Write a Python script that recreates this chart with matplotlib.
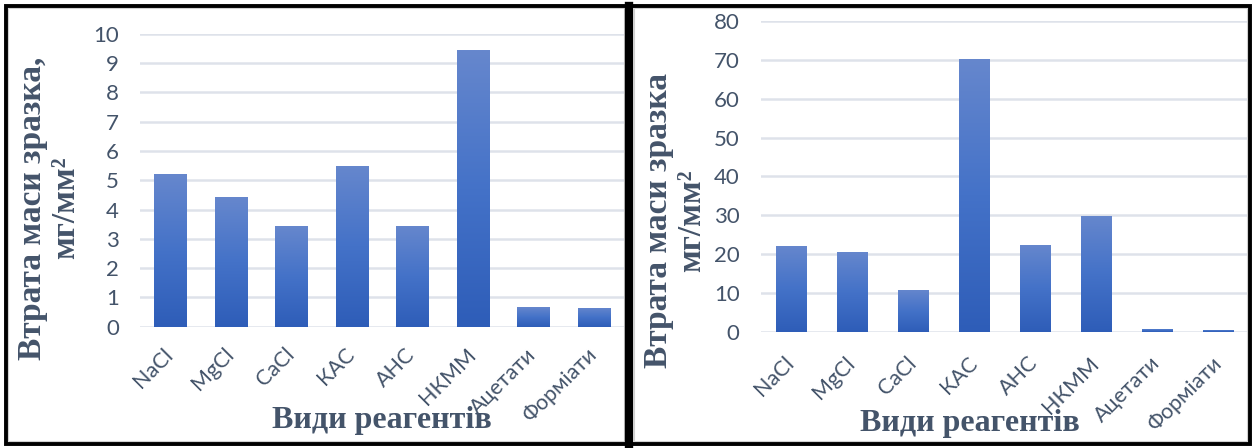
import numpy as np
import matplotlib.pyplot as plt
import matplotlib.transforms as mtransforms
from matplotlib.colors import LinearSegmentedColormap
from matplotlib.patches import Rectangle
from matplotlib.lines import Line2D

# Reagent categories and mass-loss values (mg/mm^2)
categories = ["NaCl", "MgCl", "CaCl", "КАС", "АНС", "НКММ", "Ацетати", "Форміати"]
loss_left = [5.22, 4.41, 3.42, 5.5, 3.45, 9.45, 0.68, 0.65]
loss_right = [22.1, 20.6, 10.9, 70.1, 22.4, 29.9, 0.8, 0.55]

ylabel_left = "Втрата маси зразка,\nмг/мм²"
ylabel_right = "Втрата маси зразка\nмг/мм²"
xlabel = "Види реагентів"

W, H = 1252, 448
fig = plt.figure(figsize=(W / 100, H / 100), dpi=100)
fig.patch.set_facecolor("white")

TICK_COLOR = "#44546A"
TITLE_COLOR = "#44546A"
GRID_COLOR = "#DEE2EA"
bar_cmap = LinearSegmentedColormap.from_list("bar", ["#2E5DB8", "#4472C8", "#6687CD"])


def px_axes(left, top, right, bottom):
    return fig.add_axes([left / W, 1 - bottom / H, (right - left) / W, (bottom - top) / H])


def draw_panel(ax, values, ymax, ystep, width, label_drop):
    x = np.arange(len(categories))
    bars = ax.bar(x, values, width=width, color="#4472C4", zorder=2)
    grad = np.linspace(0, 1, 256).reshape(-1, 1)
    for b in bars:
        x0, w, h = b.get_x(), b.get_width(), b.get_height()
        im = ax.imshow(grad, cmap=bar_cmap, origin="lower", aspect="auto",
                       extent=[x0, x0 + w, 0, h], zorder=3)
        im.set_clip_path(b)
    ax.set_xlim(-0.5, len(categories) - 0.5)
    ax.set_ylim(0, ymax)
    ax.set_yticks(np.arange(0, ymax + ystep / 2, ystep))
    ax.set_xticks(x)
    ax.set_xticklabels(categories, rotation=45, ha="right", va="baseline",
                       rotation_mode="anchor")
    for s in ax.spines.values():
        s.set_visible(False)
    ax.grid(axis="y", color=GRID_COLOR, linewidth=1.8, zorder=0)
    ax.set_axisbelow(True)
    ax.tick_params(axis="both", length=0, colors=TICK_COLOR)
    ax.tick_params(axis="y", pad=15, labelsize=16)
    ax.tick_params(axis="x", pad=0, labelsize=15.5)
    shift = mtransforms.ScaledTranslation(4 / 100, -label_drop / 100, fig.dpi_scale_trans)
    for lab in ax.get_xticklabels():
        lab.set_transform(lab.get_transform() + shift)
    for lab in ax.get_xticklabels() + ax.get_yticklabels():
        lab.set_fontfamily("Lato")
        lab.set_color(TICK_COLOR)
    ax.set_facecolor("white")


ax1 = px_axes(139.7, 33.7, 624.3, 326.7)
draw_panel(ax1, loss_left, 10, 1, 0.53, 29)
ax2 = px_axes(760.5, 20.7, 1249, 332.3)
draw_panel(ax2, loss_right, 80, 10, 0.5, 32)

title_kw = dict(fontfamily="Liberation Serif", fontweight="bold", color=TITLE_COLOR,
                fontsize=24, ha="center", va="center", multialignment="center",
                rotation=90, linespacing=1.1)
fig.text(49 / W, 1 - 208 / H, ylabel_left, **title_kw)
fig.text(675 / W, 1 - 221 / H, ylabel_right, **title_kw)

xl_kw = dict(fontfamily="Liberation Serif", fontweight="bold", color=TITLE_COLOR,
             fontsize=23, ha="center", va="center")
fig.text(382 / W, 1 - 420 / H, xlabel, **xl_kw)
fig.text(970 / W, 1 - 423 / H, xlabel, **xl_kw)

# Thin light inner borders of each chart area
for (l, r) in [(8, 624), (634, 1247)]:
    fig.patches.append(Rectangle((l / W, 1 - 441 / H), (r - l) / W, (441 - 8) / H,
                                 transform=fig.transFigure, fill=False,
                                 edgecolor="#D0D0D0", linewidth=0.8, zorder=9))

# Black outer frame and divider
fig.patches.append(Rectangle((6 / W, 1 - 443.5 / H), (1250 - 6) / W, (443.5 - 6.5) / H,
                             transform=fig.transFigure, fill=False,
                             edgecolor="black", linewidth=2.8, zorder=10))
fig.lines.append(Line2D([629 / W, 629 / W], [1 - 443.5 / H, 1 - 6.5 / H],
                        transform=fig.transFigure, color="black", linewidth=6, zorder=10))

fig.savefig("out.png", dpi=100, facecolor="white")
